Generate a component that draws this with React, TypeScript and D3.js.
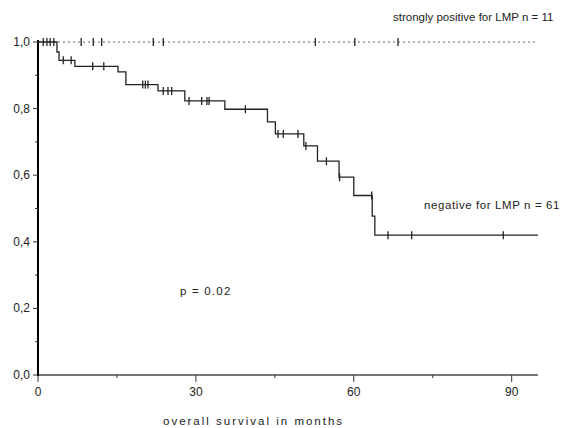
import React, { useEffect, useRef } from "react";
import * as d3 from "d3";

// negative for LMP: step times (months) and survival after each step
const negTimes = [0, 3.6, 4.0, 7.0, 15.2, 16.7, 22.8, 27.9, 35.5, 43.6, 45.1, 50.5, 53.1, 57.2, 60.0, 63.5, 64.0];
const negSurv = [1.0, 0.97, 0.945, 0.927, 0.91, 0.872, 0.853, 0.823, 0.798, 0.76, 0.724, 0.688, 0.642, 0.594, 0.539, 0.477, 0.42];
const negCensor = [4.8, 6.3, 10.4, 12.5, 19.9, 20.4, 20.9, 23.8, 24.7, 25.4, 28.7, 31.1, 32.1, 32.5, 39.4, 45.6, 46.6, 49.4, 50.9, 54.8, 57.3, 63.4, 66.5, 71.0, 88.4];

// strongly positive for LMP: no events
const posCensor = [1.0, 1.7, 2.3, 3.0, 8.2, 10.5, 12.1, 21.9, 23.8, 52.7, 60.2, 68.4];

const xTicks = [0, 30, 60, 90];
const xMinor = [15, 45, 75];
const yTicks = [0, 0.2, 0.4, 0.6, 0.8, 1.0];
const yMinor = [0.1, 0.3, 0.5, 0.7, 0.9];
const maxMonths = 95;

const App = () => {
  const ref = useRef(null);

  useEffect(() => {
    const svg = d3.select(ref.current);
    svg.selectAll("*").remove();
    const font = "Liberation Sans, Arial, sans-serif";

    const x = d3.scaleLinear().domain([0, maxMonths]).range([38, 538]);
    const y = d3.scaleLinear().domain([0, 1]).range([375, 42]);

    // x axis
    svg.append("line")
      .attr("x1", x(0)).attr("x2", x(maxMonths))
      .attr("y1", y(0)).attr("y2", y(0))
      .attr("stroke", "#777").attr("stroke-width", 2);
    svg.selectAll(".xt").data(xTicks).join("line")
      .attr("x1", d => x(d)).attr("x2", d => x(d))
      .attr("y1", y(0)).attr("y2", y(0) + 7)
      .attr("stroke", "#333");
    svg.selectAll(".xm").data(xMinor).join("line")
      .attr("x1", d => x(d)).attr("x2", d => x(d))
      .attr("y1", y(0)).attr("y2", y(0) + 3)
      .attr("stroke", "#333");
    svg.selectAll(".xl").data(xTicks).join("text")
      .attr("x", d => x(d)).attr("y", 396)
      .attr("text-anchor", "middle")
      .attr("font-family", font).attr("font-size", 12)
      .attr("fill", "#222")
      .text(d => d);

    // y axis
    svg.append("line")
      .attr("x1", x(0)).attr("x2", x(0))
      .attr("y1", y(1) - 2).attr("y2", y(0) + 1)
      .attr("stroke", "#000").attr("stroke-width", 2);
    svg.selectAll(".yt").data(yTicks).join("line")
      .attr("x1", x(0) - 5).attr("x2", x(0))
      .attr("y1", d => y(d)).attr("y2", d => y(d))
      .attr("stroke", "#333");
    svg.selectAll(".ym").data(yMinor).join("line")
      .attr("x1", x(0) - 3).attr("x2", x(0))
      .attr("y1", d => y(d)).attr("y2", d => y(d))
      .attr("stroke", "#333");
    svg.selectAll(".yl").data(yTicks).join("text")
      .attr("x", 30).attr("y", d => y(d) + 4)
      .attr("text-anchor", "end")
      .attr("font-family", font).attr("font-size", 12)
      .attr("fill", "#222")
      .text(d => d3.format(".1f")(d).replace(".", ","));

    // positive group: dotted line at 1.0
    svg.append("line")
      .attr("x1", x(0)).attr("x2", x(maxMonths))
      .attr("y1", y(1)).attr("y2", y(1))
      .attr("stroke", "#666").attr("stroke-dasharray", "2,3");
    svg.selectAll(".pc").data(posCensor).join("line")
      .attr("x1", d => x(d)).attr("x2", d => x(d))
      .attr("y1", y(1) - 4).attr("y2", y(1) + 4)
      .attr("stroke", "#222").attr("stroke-width", 1.3);

    // negative group: KM step curve
    const pts: [number, number][] = negTimes.map((t, i) => [t, negSurv[i]]);
    pts.push([maxMonths, negSurv[negSurv.length - 1]]);
    const line = d3.line<[number, number]>()
      .x(d => x(d[0])).y(d => y(d[1]))
      .curve(d3.curveStepAfter);
    svg.append("path")
      .attr("d", line(pts))
      .attr("fill", "none")
      .attr("stroke", "#222").attr("stroke-width", 1.3);

    const survAt = (t: number) => {
      const i = d3.bisectRight(negTimes, t) - 1;
      return negSurv[Math.max(0, i)];
    };
    svg.selectAll(".nc").data(negCensor).join("line")
      .attr("x1", d => x(d)).attr("x2", d => x(d))
      .attr("y1", d => y(survAt(d)) - 4).attr("y2", d => y(survAt(d)) + 4)
      .attr("stroke", "#222").attr("stroke-width", 1.3);

    // annotations
    const label = (tx: number, ty: number, s: string, ls: number) =>
      svg.append("text")
        .attr("x", tx).attr("y", ty)
        .attr("font-family", font).attr("font-size", 11.5)
        .attr("letter-spacing", ls)
        .attr("fill", "#222")
        .text(s);
    label(393, 21, "strongly positive for LMP  n = 11", 0);
    label(424, 209, "negative for LMP  n = 61", 0.6);
    label(180, 295, "p = 0.02", 1.2);
    label(163, 425, "overall survival in months", 2);
  }, []);

  return (
    <svg
      ref={ref}
      width={574}
      height={428}
      style={{ position: "absolute", left: 0, top: 0, background: "#fff" }}
    />
  );
};

export default App;
